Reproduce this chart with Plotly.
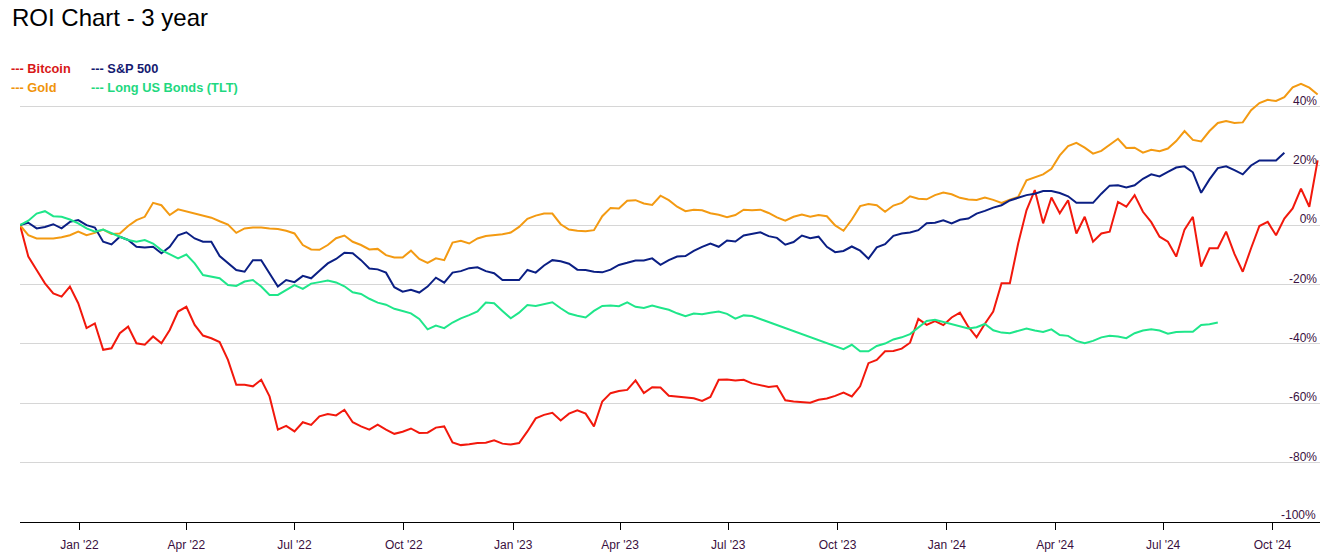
import pandas as pd
import plotly.graph_objects as go

# weekly observation dates (ROI measured from 2021-11-12)
start_date = "2021-11-12"
n_weeks = 157
dates = pd.date_range(start_date, periods=n_weeks, freq="7D")

bitcoin = [
    0, -10.6, -15.1, -19.6, -23.0, -24.1, -20.7, -26.3, -34.7, -33.1, -42.0, -41.5, -36.4, -34.2, -39.8, -40.3,
    -37.5, -39.8, -35.3, -29.1, -27.5, -33.6, -37.2, -38.1, -39.4, -45.4, -53.8, -53.8, -54.3, -52.1, -57.7, -68.9,
    -67.6, -69.5, -66.4, -67.3, -64.4, -63.6, -64.1, -62.2, -66.4, -67.8, -68.9, -67.2, -68.9, -70.3, -69.6, -68.5,
    -70.0, -69.9, -68.2, -67.8, -73.2, -74.1, -73.8, -73.4, -73.3, -72.5, -73.6, -73.9, -73.4, -69.5, -65.1,
    -63.9, -63.2, -65.8, -63.5, -62.4, -63.5, -67.8, -59.4, -56.6, -55.9, -55.5, -52.3, -56.6, -54.6, -54.7, -57.5,
    -57.8, -58.0, -58.3, -59.2, -57.9, -52.1, -52.0, -52.3, -52.1, -53.3, -53.8, -54.5, -54.2, -59.0, -59.4,
    -59.5, -59.8, -58.8, -58.4, -57.5, -56.4, -57.7, -54.3, -46.5, -45.4, -42.5, -42.4, -41.6, -39.6, -31.6, -33.6,
    -32.3, -33.7, -31.1, -29.5, -34.2, -37.8, -33.2, -29.1, -19.6, -19.6, -6.2, 5.0, 11.8, 0.6, 9.3, 4.0,
    8.4, -2.8, 2.8, -5.6, -2.8, -2.2, 7.8, 6.2, 10.1, 4.5, 1.0, -3.9, -5.6, -10.6, -1.5, 2.8,
    -14.0, -7.8, -7.8, -2.2, -9.7, -15.7, -7.8, -0.3, 1.1, -3.4, 2.2, 5.6, 12.3, 6.2, 21.8,
]

gold = [
    0, -3.4, -4.5, -4.5, -4.5, -4.1, -3.4, -2.2, -3.4, -2.6, -1.5, -3.0, -2.8, -0.3, 1.7, 2.8,
    7.5, 6.7, 3.4, 5.3, 4.6, 4.1, 3.2, 2.5, 1.3, 0.2, -2.6, -1.1, -0.8, -0.8, -1.1, -1.3,
    -1.9, -2.8, -6.7, -8.2, -8.3, -6.7, -4.4, -3.5, -5.6, -6.7, -8.2, -8.0, -10.1, -10.9, -10.9, -8.6,
    -11.4, -12.7, -11.2, -11.8, -5.9, -5.3, -6.2, -4.5, -3.7, -3.5, -3.1, -2.5, -0.6, 2.1, 3.2,
    3.9, 3.9, 0.3, -1.5, -1.9, -2.1, -1.7, 3.0, 5.8, 5.6, 8.2, 8.4, 7.3, 6.8, 9.9, 8.4,
    6.2, 4.7, 5.2, 5.0, 4.0, 3.5, 2.7, 3.4, 5.2, 5.0, 5.2, 4.1, 2.6, 1.5, 2.8,
    3.6, 2.8, 3.4, 3.0, -0.1, -1.9, 1.9, 6.4, 7.1, 6.7, 4.5, 6.6, 7.5, 9.7, 8.9, 8.7,
    10.1, 11.0, 10.4, 9.2, 8.6, 8.5, 9.3, 8.5, 7.5, 8.6, 9.5, 15.1, 16.2, 17.1, 19.0, 23.5,
    26.6, 27.7, 26.1, 24.1, 25.0, 27.2, 29.1, 26.0, 26.1, 24.4, 25.4, 24.9, 25.8, 28.3, 31.7, 28.7,
    28.2, 31.7, 34.4, 35.1, 34.4, 34.6, 38.7, 41.1, 42.2, 41.8, 43.1, 46.4, 47.6, 46.3, 44.0,
]

sp500 = [
    0, 0.8, -1.1, -0.6, 0.3, -1.1, 1.1, 1.7, 0, -0.8, -5.6, -6.5, -3.9, -5.0, -7.3, -7.5,
    -7.3, -9.5, -7.3, -3.4, -2.4, -4.5, -5.6, -5.6, -10.4, -12.9, -15.1, -15.7, -11.8, -11.8, -16.2, -20.7,
    -18.5, -19.2, -17.1, -17.9, -15.4, -12.9, -11.4, -9.3, -9.5, -11.8, -14.6, -14.9, -16.0, -20.9, -22.4, -21.8,
    -22.7, -20.7, -17.7, -19.4, -16.0, -15.5, -14.5, -14.2, -15.5, -16.2, -18.5, -18.5, -18.5, -15.1, -16.0,
    -13.6, -11.8, -12.2, -13.0, -15.0, -15.1, -15.7, -15.9, -15.0, -13.4, -12.7, -11.9, -11.9, -11.2, -13.4, -11.8,
    -10.6, -10.4, -8.7, -7.3, -6.2, -7.3, -5.2, -5.5, -3.5, -2.9, -2.4, -3.7, -4.3, -6.6, -5.7,
    -3.5, -4.4, -3.9, -7.3, -9.1, -8.7, -7.2, -8.6, -11.3, -7.5, -6.4, -3.6, -2.8, -2.5, -1.7, 0.6,
    0.8, 1.6, 0.6, 1.8, 2.2, 3.9, 4.8, 5.9, 6.7, 8.3, 9.2, 10.1, 10.6, 11.5, 11.5, 10.8,
    9.7, 7.5, 7.5, 7.5, 10.6, 13.3, 13.4, 12.7, 13.4, 15.6, 17.1, 16.4, 17.9, 19.4, 19.8, 17.8,
    10.9, 15.4, 19.2, 19.8, 18.5, 17.1, 20.1, 21.8, 21.8, 21.8, 24.4,
]

tlt = [
    0, 1.5, 3.9, 4.7, 3.0, 2.8, 1.9, 0.6, -1.1, -2.2, -1.5, -2.8, -3.9, -5.0, -5.6, -5.0,
    -6.2, -8.4, -9.7, -11.2, -9.9, -12.9, -16.8, -17.4, -17.9, -20.2, -20.5, -19.0, -18.5, -20.7, -23.5, -23.5,
    -21.8, -20.2, -21.5, -19.7, -19.2, -18.7, -19.3, -20.6, -22.6, -23.2, -24.8, -26.1, -26.8, -28.2, -28.9, -29.7,
    -31.6, -35.1, -33.8, -34.7, -32.8, -31.4, -30.3, -29.1, -26.1, -26.3, -28.9, -31.4, -29.5, -26.9, -27.2,
    -26.7, -26.0, -28.0, -29.8, -30.5, -31.1, -28.9, -27.2, -27.1, -27.3, -26.0, -27.5, -27.9, -27.1, -27.8, -28.5,
    -29.7, -30.7, -29.8, -30.0, -29.5, -29.1, -29.9, -31.5, -30.4, -30.6,
    None, None, None, None, None, None, None, None, None, None,
    -41.8, -40.3, -42.5, -42.5, -40.7, -39.9, -38.5, -37.8, -36.7, -34.5, -32.3, -31.9, -32.6, -33.5, -34.1, -34.8,
    -34.4, -33.3, -35.4, -36.2, -36.4, -35.5, -34.8, -35.5, -36.0, -35.1, -37.0,
    -37.3, -39.0, -39.8, -39.0, -37.8, -37.3, -37.5, -38.1, -36.4, -35.5, -35.1, -35.5, -36.6, -36.0, -35.9, -35.9,
    -33.6, -33.4, -32.8,
]

series_names = ["Bitcoin", "Gold", "S&P 500", "Long US Bonds (TLT)"]
series_values = [bitcoin, gold, sp500, tlt]
line_colors = ["#f2180c", "#f39a12", "#0b1f84", "#1fe68a"]
text_colors = ["#d81818", "#f0940a", "#141a70", "#1fd880"]

y_tickvals = [-100, -80, -60, -40, -20, 0, 20, 40, 60]
y_ticktext = ["-100%", "-80%", "-60%", "-40%", "-20%", "0%", "20%", "40%", ""]
y_min, y_max = -100, 60

FONT = "Arial, Liberation Sans, sans-serif"
TICK_COLOR = "#3a1040"

W, H = 1333, 554
PL, PR, PT, PB = 20, 1320, 47, 522  # plot area in px


def paper_x(px):
    return (px - PL) / (PR - PL)


def paper_y(py):
    return (PB - py) / (PB - PT)


fig = go.Figure()
for name, vals, col in zip(series_names, series_values, line_colors):
    fig.add_trace(go.Scatter(
        x=dates[:len(vals)], y=vals, name=name, mode="lines",
        line=dict(color=col, width=2), connectgaps=True, showlegend=False,
    ))

# legend as text rows (two columns)
legend_pos = {
    "Bitcoin": (9, 68), "S&P 500": (89, 68),
    "Gold": (9, 87), "Long US Bonds (TLT)": (89, 87),
}
for name, tcol in zip(series_names, text_colors):
    px_, py_ = legend_pos[name]
    fig.add_annotation(
        xref="paper", yref="paper", x=paper_x(px_), y=paper_y(py_),
        xanchor="left", yanchor="middle", showarrow=False,
        text="<b>--- " + name.replace("&", "&amp;") + "</b>",
        font=dict(family=FONT, size=12.8, color=tcol),
    )

# bottom tick label sits on the axis line, where plotly hides inside labels
fig.add_annotation(
    xref="paper", yref="y", x=1, y=y_min, xanchor="right", yanchor="middle",
    yshift=7, xshift=-2, showarrow=False, text=y_ticktext[0],
    font=dict(family=FONT, size=12, color=TICK_COLOR),
)

fig.update_layout(
    width=W, height=H,
    margin=dict(l=PL, r=W - PR, t=PT, b=H - PB, autoexpand=False),
    paper_bgcolor="white", plot_bgcolor="white",
    title=dict(
        text="ROI Chart - 3 year", xref="container", yref="container",
        x=12 / W, xanchor="left", y=1 - 9 / H, yanchor="top",
        font=dict(family=FONT, size=24, color="#000000"),
    ),
    xaxis=dict(
        type="date", range=["2021-11-12", "2024-11-10"],
        tick0="2022-01-01", dtick="M3", tickformat="%b '%y",
        ticks="outside", ticklen=7, tickcolor="#000000",
        ticklabelstandoff=5,
        showline=True, linecolor="#000000", linewidth=1,
        showgrid=False, zeroline=False,
        tickfont=dict(family=FONT, size=12, color=TICK_COLOR),
    ),
    yaxis=dict(
        range=[y_min, y_max], side="right", tickvals=y_tickvals, ticktext=y_ticktext,
        ticklabelposition="inside", ticklabelshift=-6, ticks="",
        showgrid=True, gridcolor="#d6d6d6", gridwidth=1, zeroline=False, showline=False,
        tickfont=dict(family=FONT, size=12, color=TICK_COLOR),
    ),
)

# remove the browser's default 8px page margin so the figure fills the window exactly
fig.write_html(
    "out.html",
    config={"displayModeBar": False},
    post_script="document.body.style.margin='0px';",
)
